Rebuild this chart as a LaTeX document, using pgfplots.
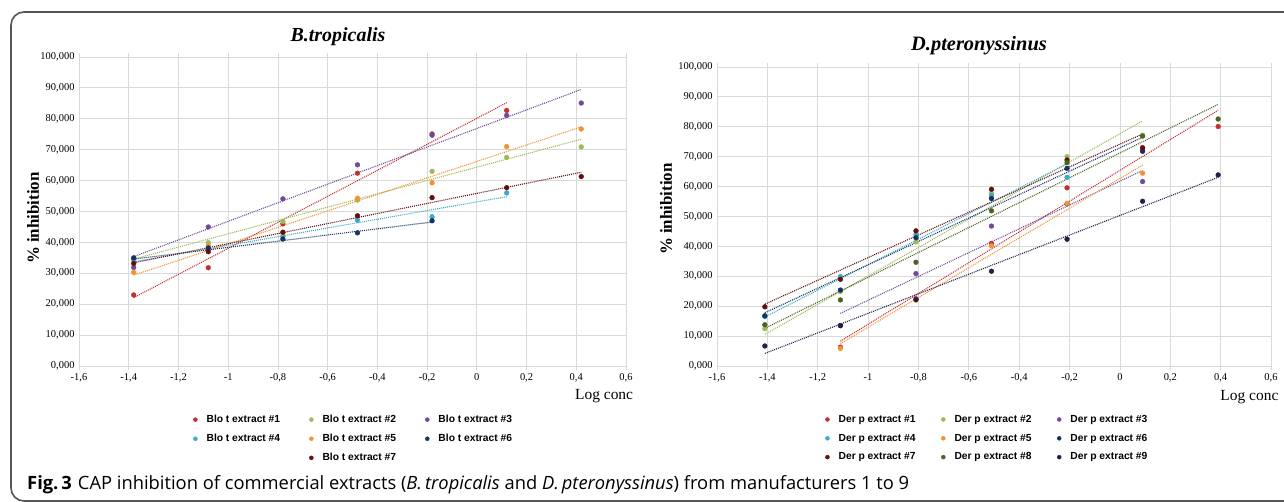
\documentclass[border=0pt]{standalone}
\usepackage{fontspec}
\setmainfont{Liberation Serif}
\newfontfamily\legfont{Liberation Sans}
\newfontfamily\capfont{Open Sans}
\usepackage{pgfplots}
\pgfplotsset{compat=1.18}

\definecolor{grd}{RGB}{217,217,217}
\definecolor{frm}{RGB}{85,85,85}
\definecolor{cA}{RGB}{196,48,48}
\definecolor{cB}{RGB}{155,187,89}
\definecolor{cC}{RGB}{112,72,160}
\definecolor{cD}{RGB}{60,170,200}
\definecolor{cE}{RGB}{245,145,50}
\definecolor{cF}{RGB}{20,50,100}
\definecolor{cG}{RGB}{100,15,15}
\definecolor{cH}{RGB}{75,100,35}
\definecolor{cI}{RGB}{35,30,75}

\pgfplotsset{
  mite/.style={
    scale only axis, anchor=south west,
    xmin=-1.6, xmax=0.6, ymin=0, ymax=100,
    xtick={-1.6,-1.4,-1.2,-1,-0.8,-0.6,-0.4,-0.2,0,0.2,0.4,0.6},
    ytick={0,10,20,30,40,50,60,70,80,90,100},
    grid=major, major grid style={draw=grd, line width=0.8bp},
    axis line style={draw=grd, line width=0.8bp},
    tick align=outside, major tick length=4bp,
    xtick style={draw=grd, line width=0.8bp}, ytick style={draw=none},
    tick label style={font=\fontsize{10.5}{12}\selectfont},
    xticklabel style={/pgf/number format/.cd, use comma, assume math mode=true},
    yticklabel style={xshift=3bp, /pgf/number format/.cd, fixed, fixed zerofill, precision=3, use comma, assume math mode=true},
    xlabel={Log conc}, xlabel style={font=\fontsize{15.5}{18}\selectfont, anchor=base},
    ylabel={\% inhibition}, ylabel style={font=\bfseries\fontsize{17}{20}\selectfont, anchor=center},
    legend columns=3, legend cell align=left,
    legend style={draw=none, fill=none, anchor=north west, inner sep=0pt, row sep=6.2bp,
      font=\legfont\bfseries\fontsize{10.3}{12}\selectfont,
      /tikz/every odd column/.append style={column sep=7bp}},
  },
  pt/.style={only marks, mark=*, mark size=2.4bp, forget plot},
  tl/.style={line width=1.1bp, dash pattern=on 1bp off 1bp, forget plot},
  lg/.style={only marks, mark=*, mark size=2bp,
    legend image code/.code={\fill[##1] (0bp,0bp) circle (2bp);}},
}

\begin{document}
\begin{tikzpicture}[x=1bp, y=1bp]
\useasboundingbox (0,0) rectangle (1284,-502);
\draw[line width=1.6bp, frm, rounded corners=13bp] (11,-12) rectangle (1330,-501);

% ---- B. tropicalis ----
\begin{axis}[mite, at={(79bp,-366bp)}, width=547bp, height=309bp,
  xlabel style={at={(axis description cs:0.96,-0.110)}},
  ylabel style={at={(axis description cs:-0.084,0.479)}},
  legend style={at={(axis description cs:0.2084,-0.152)},
    /tikz/every even column/.append style={column sep=27bp}}]
\addplot[pt, cA] coordinates {(-1.38,23.0)(-1.08,31.8)(-0.78,46.0)(-0.48,62.4)(-0.18,75.1)(0.12,82.7)};
\addplot[tl, cA] coordinates {(-1.38,22.1)(0.12,85.2)};
\addplot[pt, cB] coordinates {(-1.38,34.3)(-1.08,39.9)(-0.78,46.8)(-0.48,53.7)(-0.18,63.0)(0.12,67.5)(0.42,70.9)};
\addplot[tl, cB] coordinates {(-1.38,34.6)(0.42,73.4)};
\addplot[pt, cC] coordinates {(-1.38,31.9)(-1.08,45.0)(-0.78,54.1)(-0.48,65.1)(-0.18,74.7)(0.12,81.1)(0.42,85.1)};
\addplot[tl, cC] coordinates {(-1.38,35.4)(0.42,89.5)};
\addplot[pt, cD] coordinates {(-1.38,34.6)(-1.08,38.0)(-0.78,42.0)(-0.48,47.2)(-0.18,48.3)(0.12,56.0)};
\addplot[tl, cD] coordinates {(-1.38,33.7)(0.12,54.8)};
\addplot[pt, cE] coordinates {(-1.38,30.3)(-1.08,38.9)(-0.78,43.0)(-0.48,54.3)(-0.18,59.3)(0.12,71.0)(0.42,76.7)};
\addplot[tl, cE] coordinates {(-1.38,29.4)(0.42,77.4)};
\addplot[pt, cF] coordinates {(-1.38,35.0)(-1.08,38.2)(-0.78,41.1)(-0.48,43.1)(-0.18,47.0)};
\addplot[tl, cF] coordinates {(-1.38,34.6)(-0.18,46.6)};
\addplot[pt, cG] coordinates {(-1.38,33.2)(-1.08,37.0)(-0.78,43.3)(-0.48,48.6)(-0.18,54.5)(0.12,57.7)(0.42,61.3)};
\addplot[tl, cG] coordinates {(-1.38,33.4)(0.42,62.7)};

\addlegendimage{lg, cA}\addlegendentry{Blo t extract \#1}
\addlegendimage{lg, cB}\addlegendentry{Blo t extract \#2}
\addlegendimage{lg, cC}\addlegendentry{Blo t extract \#3}
\addlegendimage{lg, cD}\addlegendentry{Blo t extract \#4}
\addlegendimage{lg, cE}\addlegendentry{Blo t extract \#5}
\addlegendimage{lg, cF}\addlegendentry{Blo t extract \#6}
\addlegendimage{empty legend}\addlegendentry{}
\addlegendimage{lg, cG}\addlegendentry{Blo t extract \#7}
\addlegendimage{empty legend}\addlegendentry{}
\end{axis}

% ---- D. pteronyssinus ----
\begin{axis}[mite, at={(717bp,-366bp)}, width=554bp, height=299bp,
  xlabel style={at={(axis description cs:0.961,-0.114)}},
  ylabel style={at={(axis description cs:-0.092,0.525)}},
  legend style={at={(axis description cs:0.195,-0.157)},
    /tikz/every even column/.append style={column sep=23.5bp}}]
\addplot[pt, cA] coordinates {(-1.11,6.3)(-0.81,22.5)(-0.51,41.0)(-0.21,59.6)(0.09,72.3)(0.39,80.1)};
\addplot[tl, cA] coordinates {(-1.11,8.3)(0.39,85.5)};
\addplot[pt, cB] coordinates {(-1.41,12.5)(-1.11,24.9)(-0.81,41.5)(-0.51,57.7)(-0.21,70.0)(0.09,77.2)};
\addplot[tl, cB] coordinates {(-1.41,10.6)(0.09,82.0)};
\addplot[pt, cC] coordinates {(-1.11,13.5)(-0.81,30.9)(-0.51,46.8)(-0.21,54.2)(0.09,61.7)};
\addplot[tl, cC] coordinates {(-1.11,17.6)(0.09,65.4)};
\addplot[pt, cD] coordinates {(-1.41,16.5)(-1.11,29.9)(-0.81,44.0)(-0.51,57.0)(-0.21,63.1)};
\addplot[tl, cD] coordinates {(-1.41,16.4)(-0.21,67.6)};
\addplot[pt, cE] coordinates {(-1.11,5.9)(-0.81,22.0)(-0.51,40.2)(-0.21,54.4)(0.09,64.5)};
\addplot[tl, cE] coordinates {(-1.11,7.5)(0.09,67.2)};
\addplot[pt, cF] coordinates {(-1.41,16.8)(-1.11,25.4)(-0.81,42.9)(-0.51,56.0)(-0.21,66.1)(0.09,71.8)};
\addplot[tl, cF] coordinates {(-1.41,17.8)(0.09,76.5)};
\addplot[pt, cG] coordinates {(-1.41,19.8)(-1.11,29.0)(-0.81,45.2)(-0.51,59.1)(-0.21,68.9)(0.09,73.0)};
\addplot[tl, cG] coordinates {(-1.41,20.7)(0.09,77.6)};
\addplot[pt, cH] coordinates {(-1.41,13.8)(-1.11,22.1)(-0.81,34.7)(-0.51,51.9)(-0.21,68.0)(0.09,76.9)(0.39,82.6)};
\addplot[tl, cH] coordinates {(-1.41,12.6)(0.39,87.5)};
\addplot[pt, cI] coordinates {(-1.41,6.7)(-1.11,13.5)(-0.81,22.2)(-0.51,31.7)(-0.21,42.4)(0.09,55.1)(0.39,63.9)};
\addplot[tl, cI] coordinates {(-1.41,4.2)(0.39,63.1)};

\addlegendimage{lg, cA}\addlegendentry{Der p extract \#1}
\addlegendimage{lg, cB}\addlegendentry{Der p extract \#2}
\addlegendimage{lg, cC}\addlegendentry{Der p extract \#3}
\addlegendimage{lg, cD}\addlegendentry{Der p extract \#4}
\addlegendimage{lg, cE}\addlegendentry{Der p extract \#5}
\addlegendimage{lg, cF}\addlegendentry{Der p extract \#6}
\addlegendimage{lg, cG}\addlegendentry{Der p extract \#7}
\addlegendimage{lg, cH}\addlegendentry{Der p extract \#8}
\addlegendimage{lg, cI}\addlegendentry{Der p extract \#9}
\end{axis}

\node[anchor=base, font=\bfseries\itshape\fontsize{20}{24}\selectfont] at (338,-42) {B.tropicalis};
\node[anchor=base, font=\bfseries\itshape\fontsize{20.5}{24}\selectfont] at (979,-51) {D.pteronyssinus};
\node[anchor=base west, inner sep=0pt, font=\capfont\fontsize{18.4}{21}\selectfont] at (27,-489)
  {\textbf{Fig.\,3}\hspace{6bp}CAP inhibition of commercial extracts (\textit{B.\,tropicalis} and \textit{D.\,pteronyssinus}) from manufacturers 1 to 9};
\end{tikzpicture}
\end{document}
